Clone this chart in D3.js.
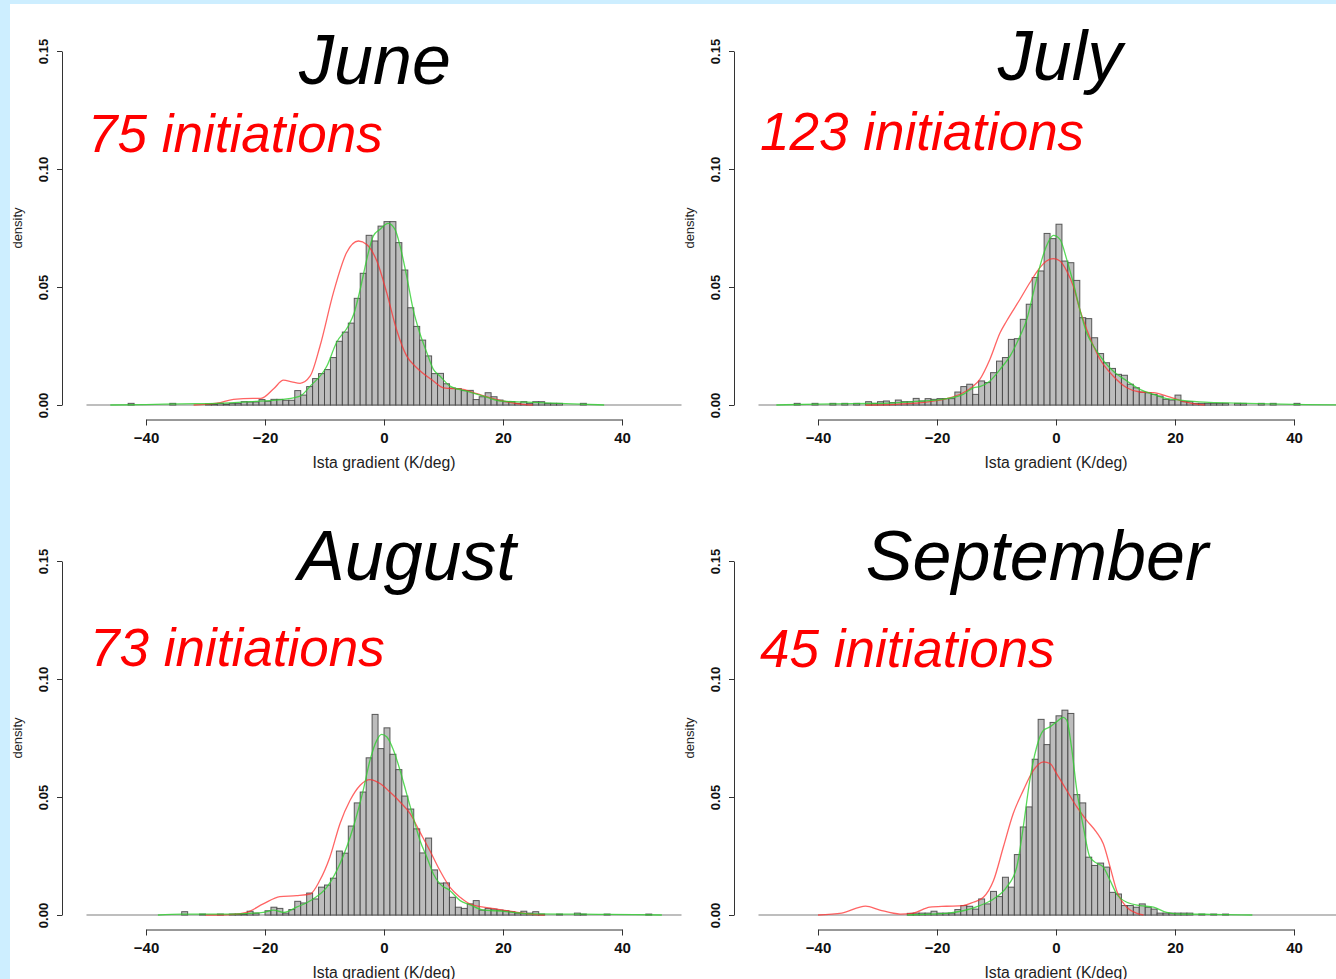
<!DOCTYPE html>
<html>
<head>
<meta charset="utf-8">
<script src="https://cdn.jsdelivr.net/npm/d3@7"></script>
<style>
  body { margin: 0; background: #cdeeff; }
  svg { display: block; font-family: "Liberation Sans", Arial, sans-serif; }
</style>
</head>
<body>
<svg id="chart" width="1336" height="979"></svg>
<script>
// months and number of initiations
var months = ['June', 'July', 'August', 'September'];
var initiations = [75, 123, 73, 45];

// histogram: first bin left edge, bin width 1 K/deg, densities per bin
var binStart = [-44, -45, -38, -25];
var juneDensity = [0, 0.0007, 0, 0, 0, 0, 0, 0, 0.0007, 0, 0, 0, 0, 0, 0.0004, 0.0004, 0.0007, 0.0004,
  0.0007, 0.0007, 0.0014, 0.0013, 0.0013, 0.0023, 0.0016, 0.0024, 0.0024, 0.002, 0.002, 0.0061, 0.0042,
  0.0078, 0.0112, 0.0133, 0.015, 0.0201, 0.027, 0.0309, 0.0347, 0.0452, 0.0558, 0.0719, 0.0695, 0.0758,
  0.0777, 0.0777, 0.0688, 0.0572, 0.0412, 0.0333, 0.0275, 0.0208, 0.0133, 0.0134, 0.009, 0.0072, 0.0069,
  0.0061, 0.0062, 0.0023, 0.0035, 0.0052, 0.0035, 0.0021, 0.0014, 0.0014, 0.0007, 0.0014, 0.0007, 0.0014,
  0.0014, 0.0007, 0.0007, 0.0007, 0, 0, 0, 0.0007];
var julyDensity = [0, 0.0007, 0, 0, 0.0007, 0, 0, 0.0007, 0, 0.0007, 0, 0.0007, 0, 0.0014, 0.0007, 0.0014,
  0.0017, 0.001, 0.0021, 0.0014, 0.0014, 0.0028, 0.0017, 0.0027, 0.0024, 0.0027, 0.0027, 0.0027, 0.0055,
  0.0078, 0.0088, 0.0045, 0.0102, 0.0095, 0.0137, 0.0186, 0.0201, 0.0278, 0.0281, 0.0363, 0.0427, 0.054,
  0.0568, 0.0727, 0.0705, 0.0766, 0.061, 0.0603, 0.0528, 0.037, 0.0366, 0.0285, 0.0218, 0.0179, 0.0155,
  0.013, 0.0126, 0.0088, 0.0073, 0.0055, 0.0052, 0.0045, 0.0038, 0.0024, 0.0021, 0.0042, 0.0014, 0.0014,
  0.0007, 0.0007, 0.0007, 0.0007, 0.0007, 0.0007, 0, 0.0007, 0.0007, 0, 0, 0.0007, 0, 0.0007, 0, 0, 0, 0.0007];
var augustDensity = [0, 0, 0, 0, 0.0014, 0, 0, 0.0004, 0, 0, 0.0004, 0, 0.0004, 0.0004, 0.0004, 0.0016,
  0.0008, 0, 0.0018, 0.0033, 0.0028, 0.0008, 0.0023, 0.0058, 0.0051, 0.0093, 0.0068, 0.0118, 0.0127, 0.0156,
  0.0271, 0.0262, 0.0377, 0.0475, 0.0521, 0.0666, 0.085, 0.0705, 0.0793, 0.0681, 0.0616, 0.0504, 0.0449,
  0.0365, 0.0263, 0.0326, 0.0191, 0.0135, 0.0136, 0.0075, 0.0033, 0.0028, 0.0047, 0.0061, 0.0021, 0.0028,
  0.0025, 0.0021, 0.0018, 0.0014, 0.0008, 0.0016, 0.0008, 0.0014, 0.0004, 0, 0, 0.0004, 0, 0, 0.0008,
  0.0004, 0, 0, 0, 0.0004, 0, 0, 0, 0, 0, 0, 0.0004];
var septemberDensity = [0.0007, 0.0008, 0.0008, 0.0008, 0.0016, 0.0008, 0.0008, 0.0008, 0.0023, 0.004,
  0.0037, 0.0025, 0.0068, 0.0047, 0.01, 0.0078, 0.016, 0.0118, 0.0256, 0.0373, 0.0458, 0.066, 0.0829,
  0.0722, 0.0816, 0.0844, 0.0868, 0.0854, 0.051, 0.0475, 0.0245, 0.021, 0.022, 0.0203, 0.0096, 0.0089,
  0.004, 0.004, 0.0033, 0.0047, 0.0033, 0.0025, 0.0008, 0.0008, 0.0008, 0.0008, 0.0008, 0.0008, 0,
  0.0004, 0, 0.0004, 0, 0.0004];
var densities = [juneDensity, julyDensity, augustDensity, septemberDensity];

// green: density of all gradients, [x, density]
var juneGreen = [[-46,0],[-40,0.0002],[-34,0.0005],[-28,0.0007],[-22.5,0.0014],[-16.9,0.0024],[-14.1,0.0038],
  [-12.4,0.008],[-9.6,0.0165],[-8,0.0264],[-6,0.0335],[-5,0.0391],[-4,0.049],[-2.9,0.0617],[-1.8,0.0716],
  [-0.7,0.0744],[0.7,0.077],[1.85,0.0744],[2.7,0.0674],[3.8,0.0547],[4.9,0.0405],[6,0.0306],[7.2,0.0222],
  [8.3,0.0151],[9.4,0.0123],[11.1,0.008],[13.9,0.0059],[16.7,0.0038],[19.5,0.0017],[24,0.0012],[28,0.0008],
  [33,0.0004],[37,0]];
var julyGreen = [[-47,0],[-40,0.0004],[-34,0.0006],[-29,0.0007],[-24,0.0014],[-18.4,0.0027],[-15.6,0.0045],
  [-13.9,0.0073],[-12.8,0.0078],[-11.1,0.0102],[-9.4,0.0151],[-7.7,0.0208],[-6.05,0.0292],[-4.9,0.0363],
  [-3.8,0.0476],[-2.7,0.0588],[-1.6,0.0674],[-0.45,0.0719],[0.67,0.0702],[1.8,0.0617],[2.9,0.0518],
  [4,0.0405],[5.15,0.0306],[6.3,0.025],[7.4,0.0208],[8.5,0.0172],[9.6,0.0144],[11.9,0.0102],[14.1,0.0066],
  [16.4,0.0045],[18.6,0.0027],[20.8,0.0021],[25,0.0012],[30,0.0008],[36,0.0005],[42,0.0002],[48,0]];
var augustGreen = [[-38,0],[-34,0.0004],[-30,0.0004],[-25.9,0.0004],[-22.5,0.0007],[-20.3,0.0011],
  [-18.6,0.0021],[-16.9,0.0011],[-14.7,0.0033],[-11.9,0.0068],[-9.6,0.0118],[-7.4,0.0217],[-5.15,0.0373],
  [-3.5,0.0528],[-2.35,0.0656],[-1.2,0.0741],[-0.4,0.0765],[0.45,0.0755],[1.6,0.0698],[2.7,0.0613],
  [3.8,0.0514],[4.9,0.0415],[6.05,0.0316],[7.2,0.0245],[8.3,0.0174],[9.4,0.0132],[11.1,0.0103],
  [12.8,0.0061],[14.4,0.0044],[16.7,0.0021],[18.9,0.0018],[21.7,0.0011],[24.5,0.0005],[30,0.0004],
  [36,0.0003],[42,0.0002],[46.7,0]];
var septemberGreen = [[-25,0],[-24,0.0001],[-18.4,0.0007],[-15.6,0.0018],[-12.8,0.004],[-10.5,0.0068],
  [-8.3,0.0118],[-6.6,0.0203],[-5.5,0.0373],[-4.4,0.0571],[-3.25,0.0712],[-2.1,0.0783],[-1,0.0797],
  [0.1,0.0819],[1.2,0.0837],[1.8,0.0826],[2.6,0.0712],[3.5,0.0528],[4.6,0.0373],[5.7,0.0245],[6.8,0.022],
  [7.95,0.0203],[9.1,0.0146],[10.2,0.0089],[11.9,0.0054],[14.1,0.004],[16.4,0.0033],[18.6,0.0011],
  [20.8,0.0004],[26,0.0003],[33,0]];
var greens = [juneGreen, julyGreen, augustGreen, septemberGreen];

// red: density at initiation points, [x, density]
var juneRed = [[-32,0],[-28,0.0008],[-25.3,0.0024],[-22,0.0028],[-20.7,0.0028],[-18.5,0.007],[-16.9,0.0105],
  [-15.5,0.0098],[-14.1,0.0092],[-12.4,0.0123],[-10.75,0.025],[-8.5,0.0476],[-6.3,0.0645],[-4.3,0.0695],
  [-2.9,0.068],[-1.2,0.061],[0.45,0.0476],[2.1,0.032],[3.8,0.0208],[5.5,0.0158],[8.3,0.0102],[10,0.0073],
  [13.3,0.0066],[15.6,0.0048],[19.5,0.002],[23,0.0004],[25,0]];
var julyRed = [[-32,0],[-26.8,0.0003],[-21.2,0.0014],[-18.4,0.0027],[-15.6,0.0052],[-13.9,0.008],
  [-12.8,0.0109],[-11.1,0.0194],[-9.4,0.0306],[-8.3,0.0356],[-6.05,0.0448],[-4.4,0.0518],[-2.7,0.0582],
  [-1.6,0.061],[-0.45,0.062],[0.67,0.061],[1.8,0.0568],[2.9,0.0504],[4,0.0405],[5.15,0.0321],[6.3,0.025],
  [7.4,0.0194],[9.6,0.0123],[11.9,0.0073],[14.1,0.0055],[16.4,0.0052],[18.6,0.0038],[20.8,0.002],
  [23,0.0006],[25,0]];
var augustRed = [[-30,0],[-25.9,0.0002],[-23.1,0.0011],[-20.3,0.0047],[-17.5,0.0078],[-14.7,0.0082],
  [-12.4,0.0089],[-10.8,0.0146],[-9.1,0.0245],[-7.4,0.0387],[-5.7,0.0486],[-4,0.055],[-2.35,0.0574],
  [-0.67,0.0557],[1,0.0521],[2.7,0.0479],[4.4,0.0429],[6.05,0.0351],[7.7,0.0273],[9.4,0.0188],
  [11.1,0.0117],[12.8,0.0075],[14.4,0.0047],[16.7,0.0033],[18.9,0.0025],[21.7,0.0014],[24.5,0.0004],[27,0]];
var septemberRed = [[-40,0],[-36,0.0008],[-32,0.0038],[-29.6,0.0021],[-26.2,0.0004],[-24,0.0008],
  [-21.2,0.0033],[-18.4,0.0037],[-15.6,0.004],[-13.9,0.0054],[-12.2,0.0075],[-10.5,0.0146],[-8.85,0.0288],
  [-7.2,0.0429],[-5.5,0.0528],[-3.8,0.0613],[-2.1,0.0649],[-1,0.0642],[0.1,0.0599],[1.8,0.0528],
  [3.5,0.0458],[5.15,0.0401],[6.8,0.0351],[7.95,0.0302],[9.1,0.0203],[10.2,0.0103],[11.9,0.0033],
  [13.5,0.0008],[14.7,0]];
var reds = [juneRed, julyRed, augustRed, septemberRed];

var xTicks = [-40, -20, 0, 20, 40];
var yTicks = [0, 0.05, 0.10, 0.15];
var xLabel = 'Ista gradient (K/deg)';
var yLabel = 'density';

var svg = d3.select('#chart');

svg.append('rect').attr('width', 1336).attr('height', 979).attr('fill', '#cdeeff');
svg.append('rect').attr('x', 10).attr('y', 4).attr('width', 1326).attr('height', 975).attr('fill', '#ffffff');

// panel layout: x pixel of -40, y pixel of 0, title and note anchors
var panels = [
  { x0: 146, y0: 405, titleX: 375, titleY: 84, noteX: 88, noteY: 152 },
  { x0: 818, y0: 405, titleX: 1060, titleY: 80, noteX: 760, noteY: 150 },
  { x0: 146, y0: 915, titleX: 407, titleY: 580, noteX: 90, noteY: 666 },
  { x0: 818, y0: 915, titleX: 1037, titleY: 580, noteX: 760, noteY: 667 }
];

panels.forEach(function(p, i) {
  drawPanel(p, i);
});

function drawPanel(p, i) {
  var x = d3.scaleLinear().domain([-40, 40]).range([p.x0, p.x0 + 476]);
  var y = d3.scaleLinear().domain([0, 0.15]).range([p.y0, p.y0 - 354]);
  var axisX = p.x0 - 84;

  var g = svg.append('g');

  // zero line
  g.append('line')
    .attr('x1', x(-50)).attr('x2', x(50))
    .attr('y1', y(0)).attr('y2', y(0))
    .attr('stroke', '#a8a8a8').attr('stroke-width', 1.5);

  var bins = densities[i].map(function(d, k) { return { x: binStart[i] + k, d: d }; })
    .filter(function(b) { return b.d > 0; });

  g.selectAll('rect.bar')
    .data(bins)
    .enter().append('rect')
    .attr('class', 'bar')
    .attr('x', function(b) { return x(b.x); })
    .attr('width', function(b) { return x(b.x + 1) - x(b.x); })
    .attr('y', function(b) { return y(b.d); })
    .attr('height', function(b) { return y(0) - y(b.d); })
    .attr('fill', '#bdbdbd')
    .attr('stroke', '#404040')
    .attr('stroke-opacity', 0.85)
    .attr('stroke-width', 1);

  var line = d3.line()
    .x(function(d) { return x(d[0]); })
    .y(function(d) { return y(d[1]); })
    .curve(d3.curveMonotoneX);

  g.append('path').attr('d', line(reds[i]))
    .attr('fill', 'none').attr('stroke', '#ff3030').attr('stroke-opacity', 0.75).attr('stroke-width', 1.3);
  g.append('path').attr('d', line(greens[i]))
    .attr('fill', 'none').attr('stroke', '#30d030').attr('stroke-opacity', 0.8).attr('stroke-width', 1.3);

  // y axis
  var ya = g.append('g')
    .attr('transform', 'translate(' + axisX + ',0)')
    .call(d3.axisLeft(y).tickValues(yTicks).tickSize(5).tickSizeOuter(0).tickFormat(d3.format('.2f')));
  ya.select('.domain').attr('stroke', '#333');
  ya.selectAll('.tick line').attr('stroke', '#333');
  ya.selectAll('.tick text')
    .attr('x', null).attr('dy', null)
    .attr('transform', 'translate(-14,0) rotate(-90)')
    .attr('text-anchor', 'middle')
    .attr('font-size', 13).attr('font-weight', 'bold')
    .attr('font-family', '"Liberation Sans", Arial, sans-serif')
    .attr('fill', '#111');

  // x axis
  var xa = g.append('g')
    .attr('transform', 'translate(0,' + (p.y0 + 14.5) + ')')
    .call(d3.axisBottom(x).tickValues(xTicks).tickSize(6).tickSizeOuter(0));
  xa.select('.domain').attr('stroke', '#333');
  xa.selectAll('.tick line').attr('stroke', '#333');
  xa.selectAll('.tick text')
    .attr('y', 13)
    .attr('font-size', 15).attr('font-weight', 'bold')
    .attr('font-family', '"Liberation Sans", Arial, sans-serif')
    .attr('fill', '#111');

  g.append('text')
    .attr('x', x(0)).attr('y', p.y0 + 63)
    .attr('text-anchor', 'middle')
    .attr('font-size', 15.8)
    .attr('fill', '#222')
    .text(xLabel);

  g.append('text')
    .attr('transform', 'translate(' + (axisX - 40) + ',' + (y(0.075)) + ') rotate(-90)')
    .attr('text-anchor', 'middle')
    .attr('font-size', 13)
    .attr('fill', '#222')
    .text(yLabel);

  // month title and initiation count
  g.append('text')
    .attr('x', p.titleX).attr('y', p.titleY)
    .attr('text-anchor', 'middle')
    .attr('font-size', 70).attr('font-style', 'italic')
    .attr('fill', '#000')
    .text(months[i]);

  g.append('text')
    .attr('x', p.noteX).attr('y', p.noteY)
    .attr('font-size', 53).attr('font-style', 'italic')
    .attr('fill', '#ff0000')
    .text(initiations[i] + ' initiations');
}
</script>
</body>
</html>
